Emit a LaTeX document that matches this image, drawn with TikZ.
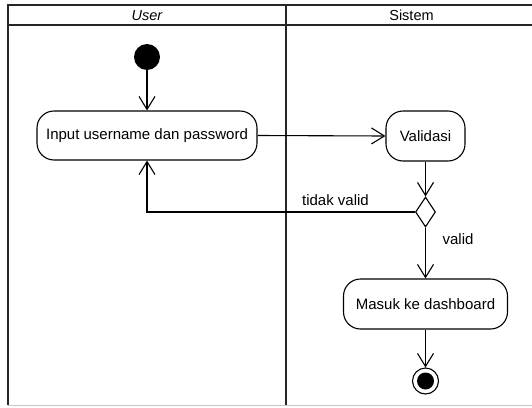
\documentclass[tikz,border=0pt]{standalone}
\usepackage{fontspec}
\setmainfont{Liberation Sans}
\usetikzlibrary{arrows.meta,shapes.geometric}
\tikzset{
  lane/.style={line width=2.5pt, draw=black!85},
  act/.style={draw, line width=1.1pt, rounded corners=17pt, fill=white, inner sep=0pt, font=\fontsize{15}{17}\selectfont},
  flow/.style={draw, line width=1.1pt, -{Straight Barb[length=13pt,width=16pt,line width=1.1pt]}},
  lbl/.style={font=\fontsize{15}{17}\selectfont, inner sep=0pt},
}
\begin{document}
\begin{tikzpicture}[x=1pt,y=-1pt]
\useasboundingbox (0,0) rectangle (532,407);
\fill[white] (0,0) rectangle (532,407);
% swimlane frame
\draw[lane] (540,5) -- (8,5) -- (8,405);
\draw[lane] (8,25) -- (540,25);
\draw[lane] (286,5) -- (286,405);
\draw[gray!45, line width=1pt] (8,405) -- (532,405);
\node[lbl, font=\fontsize{14.5}{16}\selectfont\itshape] (luser) at (147,15.5) {User};
\node[lbl, font=\fontsize{14.5}{16}\selectfont] (lsys) at (411.5,15.5) {Sistem};
% nodes
\node[circle, fill=black, minimum size=26pt, inner sep=0pt] (start) at (147,57) {};
\node[act, minimum width=220pt, minimum height=49pt] (input) at (147,135.5) {Input username dan password};
\node[act, minimum width=79pt, minimum height=50pt] (valid) at (425.5,136) {Validasi};
\node[diamond, draw, line width=1.1pt, fill=white, inner sep=0pt, minimum width=20pt, minimum height=30pt] (dec) at (425.5,212) {};
\node[act, minimum width=164pt, minimum height=50pt] (masuk) at (425.5,304) {Masuk ke dashboard};
\node[circle, draw, line width=1.1pt, fill=white, minimum size=26pt, inner sep=0pt] (end) at (425.5,381) {};
\node[circle, fill=black, minimum size=17pt, inner sep=0pt] (endin) at (end.center) {};
% connectors
\draw[flow] (start) -- (input);
\draw[flow] (input.east) -- (valid.west);
\draw[flow] (valid.south) -- (dec.north);
\draw[flow] (dec.west) -| (input.south);
\draw[flow] (dec.south) -- (masuk.north);
\draw[flow] (masuk.south) -- (end.north);
% labels
\node[lbl] (ltv) at (335.5,200) {tidak valid};
\node[lbl] (lv) at (458,239) {valid};
\end{tikzpicture}
\end{document}
